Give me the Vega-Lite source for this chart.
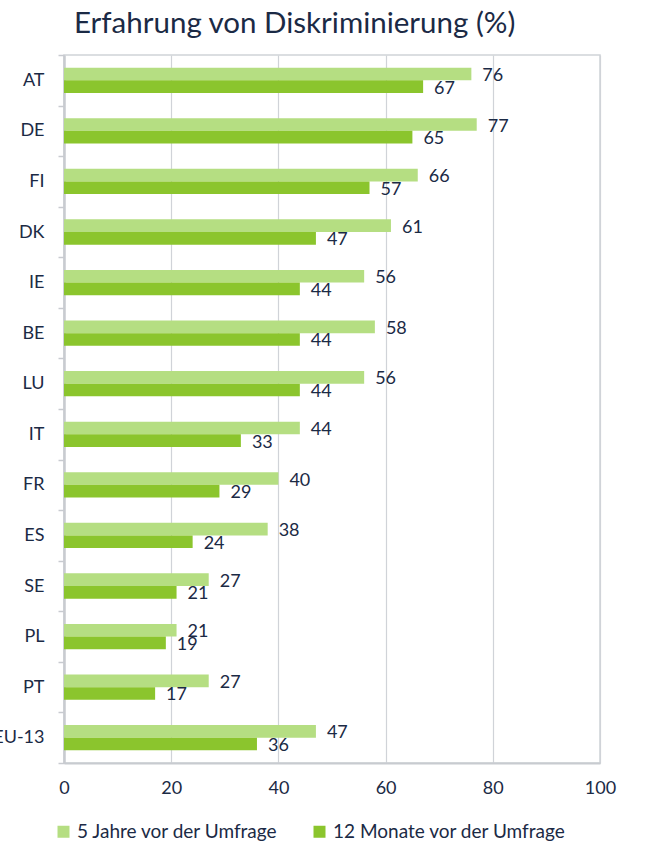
{
  "$schema": "https://vega.github.io/schema/vega-lite/v6.json",
  "width": 536,
  "height": 708,
  "autosize": {"type": "none"},
  "padding": {"left": 64, "top": 55, "right": 57, "bottom": 98},
  "background": "white",
  "config": {
    "font": "Lato",
    "view": {"stroke": "#d0d3d8", "strokeWidth": 1.5}
  },
  "title": {
    "text": "Erfahrung von Diskriminierung (%)",
    "anchor": "start",
    "frame": "group",
    "dx": 10,
    "offset": 7,
    "fontSize": 29.5,
    "font": "Lato",
    "fontWeight": "normal",
    "color": "#1b2a45"
  },
  "data": {
    "values": [
      {"land": "AT", "serie": "5 Jahre vor der Umfrage", "wert": 76},
      {"land": "AT", "serie": "12 Monate vor der Umfrage", "wert": 67},
      {"land": "DE", "serie": "5 Jahre vor der Umfrage", "wert": 77},
      {"land": "DE", "serie": "12 Monate vor der Umfrage", "wert": 65},
      {"land": "FI", "serie": "5 Jahre vor der Umfrage", "wert": 66},
      {"land": "FI", "serie": "12 Monate vor der Umfrage", "wert": 57},
      {"land": "DK", "serie": "5 Jahre vor der Umfrage", "wert": 61},
      {"land": "DK", "serie": "12 Monate vor der Umfrage", "wert": 47},
      {"land": "IE", "serie": "5 Jahre vor der Umfrage", "wert": 56},
      {"land": "IE", "serie": "12 Monate vor der Umfrage", "wert": 44},
      {"land": "BE", "serie": "5 Jahre vor der Umfrage", "wert": 58},
      {"land": "BE", "serie": "12 Monate vor der Umfrage", "wert": 44},
      {"land": "LU", "serie": "5 Jahre vor der Umfrage", "wert": 56},
      {"land": "LU", "serie": "12 Monate vor der Umfrage", "wert": 44},
      {"land": "IT", "serie": "5 Jahre vor der Umfrage", "wert": 44},
      {"land": "IT", "serie": "12 Monate vor der Umfrage", "wert": 33},
      {"land": "FR", "serie": "5 Jahre vor der Umfrage", "wert": 40},
      {"land": "FR", "serie": "12 Monate vor der Umfrage", "wert": 29},
      {"land": "ES", "serie": "5 Jahre vor der Umfrage", "wert": 38},
      {"land": "ES", "serie": "12 Monate vor der Umfrage", "wert": 24},
      {"land": "SE", "serie": "5 Jahre vor der Umfrage", "wert": 27},
      {"land": "SE", "serie": "12 Monate vor der Umfrage", "wert": 21},
      {"land": "PL", "serie": "5 Jahre vor der Umfrage", "wert": 21},
      {"land": "PL", "serie": "12 Monate vor der Umfrage", "wert": 19},
      {"land": "PT", "serie": "5 Jahre vor der Umfrage", "wert": 27},
      {"land": "PT", "serie": "12 Monate vor der Umfrage", "wert": 17},
      {"land": "EU-13", "serie": "5 Jahre vor der Umfrage", "wert": 47},
      {"land": "EU-13", "serie": "12 Monate vor der Umfrage", "wert": 36}
    ]
  },
  "encoding": {
    "y": {
      "field": "land",
      "type": "nominal",
      "sort": ["AT", "DE", "FI", "DK", "IE", "BE", "LU", "IT", "FR", "ES", "SE", "PL", "PT", "EU-13"],
      "scale": {"paddingInner": 0, "paddingOuter": 0},
      "axis": {
        "title": null,
        "tickBand": "extent",
        "tickSize": 6,
        "tickColor": "#c8cbd0",
        "tickWidth": 1.5,
        "domainColor": "#c8cbd0",
        "domainWidth": 2.5,
        "labelFontSize": 18,
        "labelColor": "#1b2a45",
        "labelPadding": 14,
        "grid": false
      }
    },
    "yOffset": {
      "field": "serie",
      "sort": ["5 Jahre vor der Umfrage", "12 Monate vor der Umfrage"],
      "scale": {"paddingInner": 0, "paddingOuter": 1.1}
    },
    "x": {
      "field": "wert",
      "type": "quantitative",
      "scale": {"domain": [0, 100], "nice": false},
      "axis": {
        "title": null,
        "values": [0, 20, 40, 60, 80, 100],
        "grid": true,
        "gridColor": "#d0d3d8",
        "gridWidth": 1.2,
        "domainColor": "#c8cbd0",
        "domainWidth": 2,
        "ticks": false,
        "labelFlush": false,
        "labelPadding": 16,
        "labelFontSize": 18,
        "labelColor": "#1b2a45"
      }
    }
  },
  "layer": [
    {
      "mark": {"type": "bar"},
      "encoding": {
        "color": {
          "field": "serie",
          "type": "nominal",
          "sort": ["5 Jahre vor der Umfrage", "12 Monate vor der Umfrage"],
          "scale": {"range": ["#b5de82", "#8bc52d"]},
          "legend": {
            "title": null,
            "orient": "none",
            "legendX": -10,
            "legendY": 767,
            "direction": "horizontal",
            "symbolType": "square",
            "symbolSize": 144,
            "symbolStrokeWidth": 0,
            "labelFontSize": 19,
            "labelColor": "#1b2a45",
            "labelOffset": 4,
            "columnPadding": 31,
            "labelLimit": 400
          }
        }
      }
    },
    {
      "mark": {"type": "text", "align": "left", "dx": 11, "dy": 2, "fontSize": 18, "color": "#1b2a45"},
      "encoding": {"text": {"field": "wert", "type": "quantitative"}}
    }
  ]
}
